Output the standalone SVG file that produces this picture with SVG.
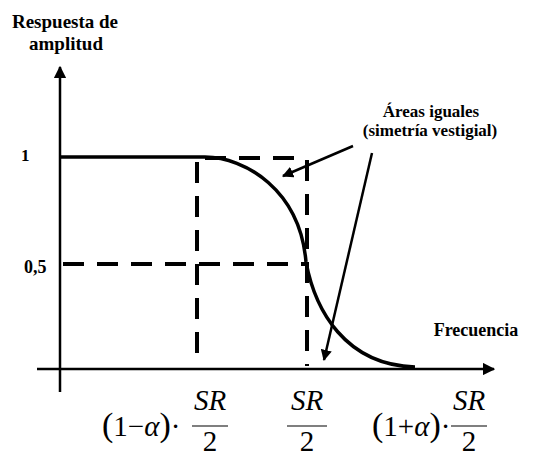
<svg xmlns="http://www.w3.org/2000/svg" width="534" height="457" viewBox="0 0 534 457">
<style>
.lbl{font-family:"Liberation Serif","Times New Roman",serif;font-weight:bold;fill:#000}
.math{font-family:"Liberation Serif","Times New Roman",serif;fill:#000;font-size:29px}
.it{font-style:italic}
.par{font-size:34px}
.axis{stroke:#000;stroke-width:2.5;fill:none}
.dash{stroke:#000;stroke-width:4;fill:none;stroke-dasharray:21 13}
.thick{stroke:#000;stroke-width:3.5;fill:none}
.ptr{stroke:#000;stroke-width:2.5;fill:none}
</style>
<defs>
<marker id="ah" viewBox="0 0 10 10" refX="9" refY="5" markerWidth="5" markerHeight="5" orient="auto" markerUnits="strokeWidth">
<path d="M0,0 L10,5 L0,10 z" fill="#000"/>
</marker>
<marker id="ah2" viewBox="0 0 10 10" refX="9" refY="5" markerWidth="4.5" markerHeight="4.5" orient="auto" markerUnits="strokeWidth">
<path d="M0,0 L10,5 L0,10 z" fill="#000"/>
</marker>
</defs>
<rect width="534" height="457" fill="#fff"/>
<g id="axes">
<line class="axis" x1="60" y1="392" x2="60" y2="67" marker-end="url(#ah)"/>
<line class="axis" x1="37" y1="369" x2="494" y2="369" marker-end="url(#ah)"/>
</g>
<g id="guides">
<path class="dash" d="M205,158 H307" stroke-dasharray="16 10"/>
<path class="dash" d="M63,264 H305"/>
<path class="dash" d="M197,162 V366"/>
<path class="dash" d="M307,160 V366"/>
</g>
<g id="curve">
<path class="thick" d="M60,157 H205 C245,157 300,190 306,262 C315,310 345,365 415,367"/>
</g>
<g id="connectors">
<line class="ptr" x1="353" y1="146" x2="283" y2="176" marker-end="url(#ah2)"/>
<line class="ptr" x1="372" y1="153" x2="324" y2="360" marker-end="url(#ah2)"/>
</g>
<g id="labels">
<text class="lbl" x="65" y="28" font-size="19" text-anchor="middle">Respuesta de</text>
<text class="lbl" x="66" y="50" font-size="19" text-anchor="middle">amplitud</text>
<text class="lbl" x="21" y="161" font-size="17">1</text>
<text class="lbl" x="24" y="273" font-size="18">0,5</text>
<text class="lbl" x="476" y="336" font-size="18" text-anchor="middle">Frecuencia</text>
<text class="lbl" x="431" y="117" font-size="17" text-anchor="middle">Áreas iguales</text>
<text class="lbl" x="430" y="136" font-size="17" text-anchor="middle">(simetría vestigial)</text>
</g>
<g id="ticks-math">
<text class="math" x="102" y="436"><tspan class="par">(</tspan>1−<tspan class="it">α</tspan><tspan class="par">)</tspan>·</text>
<text class="math it" x="210" y="410" text-anchor="middle">SR</text>
<line x1="192" y1="426" x2="228" y2="426" stroke="#000" stroke-width="1.2"/>
<text class="math" x="210" y="451" text-anchor="middle">2</text>
<text class="math it" x="307" y="410" text-anchor="middle">SR</text>
<line x1="287" y1="426" x2="327" y2="426" stroke="#000" stroke-width="1.2"/>
<text class="math" x="307" y="451" text-anchor="middle">2</text>
<text class="math" x="372" y="436"><tspan class="par">(</tspan>1+<tspan class="it">α</tspan><tspan class="par">)</tspan>·</text>
<text class="math it" x="469" y="410" text-anchor="middle">SR</text>
<line x1="451" y1="426" x2="487" y2="426" stroke="#000" stroke-width="1.2"/>
<text class="math" x="469" y="451" text-anchor="middle">2</text>
</g>
</svg>
